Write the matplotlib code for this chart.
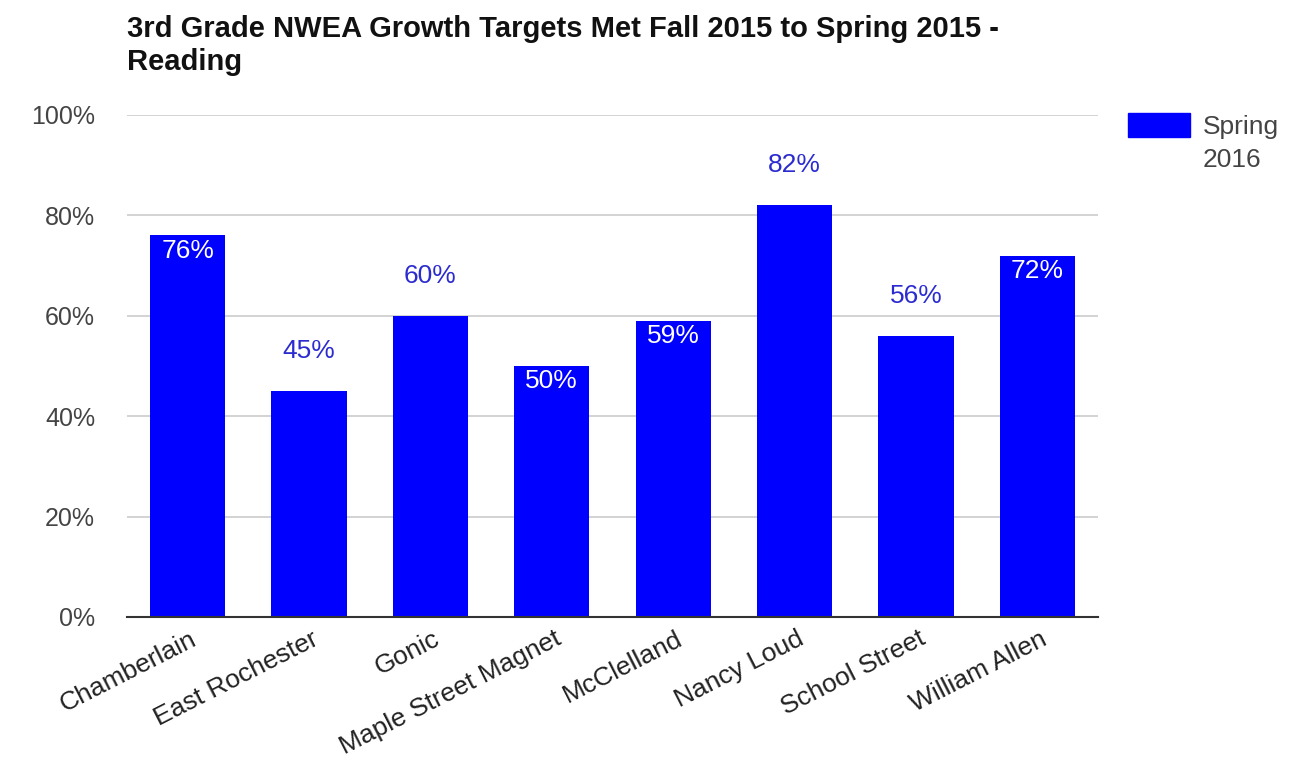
import matplotlib
matplotlib.use("Agg")
import matplotlib.pyplot as plt
from matplotlib.patches import Rectangle
from matplotlib.transforms import ScaledTranslation

schools = ["Chamberlain", "East Rochester", "Gonic", "Maple Street Magnet",
           "McClelland", "Nancy Loud", "School Street", "William Allen"]
values = [76, 45, 60, 50, 59, 82, 56, 72]
label_inside = [True, False, False, True, True, False, False, True]
yticks = [0, 20, 40, 60, 80, 100]
series_name = ["Spring", "2016"]
title = "3rd Grade NWEA Growth Targets Met Fall 2015 to Spring 2015 -\nReading"

plt.rcParams['font.family'] = ['Liberation Sans', 'DejaVu Sans']

BLUE = "#0000ff"
W, H = 1301, 769
fig = plt.figure(figsize=(W / 100, H / 100), dpi=100)
ax = fig.add_axes([127 / W, 1 - 617 / H, (1098 - 127) / W, (617 - 115) / H])

x = list(range(len(schools)))
ax.bar(x, values, width=0.62, color=BLUE, zorder=3)
ax.set_xlim(-0.5, len(schools) - 0.5)
ax.set_ylim(0, 100)

ax.set_yticks(yticks)
ax.set_yticklabels([f"{v}%" for v in yticks], fontsize=18, color="#444444")
ax.yaxis.grid(True, color="#cccccc", linewidth=1.2, zorder=0)
ax.tick_params(axis='y', length=0, pad=23)
ax.tick_params(axis='x', length=0, pad=7)

ax.set_xticks(x)
ax.set_xticklabels(schools, rotation=27, ha='right', va='top',
                   rotation_mode='anchor', fontsize=19, color="#222222")
shift = ScaledTranslation(2 / 100, 0, fig.dpi_scale_trans)
for lbl in ax.get_xticklabels():
    lbl.set_transform(lbl.get_transform() + shift)

for side in ['top', 'right', 'left']:
    ax.spines[side].set_visible(False)
ax.spines['bottom'].set_color("#333333")
ax.spines['bottom'].set_linewidth(1.5)
ax.spines['bottom'].set_zorder(4)

for xi, v, inside in zip(x, values, label_inside):
    if inside:
        ax.text(xi, v - 3.0, f"{v}%", ha='center', va='center', fontsize=19,
                color="white", zorder=5)
    else:
        ax.text(xi, v + 8, f"{v}%", ha='center', va='center', fontsize=19,
                color="#2b2bd0", zorder=5)

fig.text(127 / W, 1 - 15 / H, title, ha='left', va='top', fontsize=21,
         fontweight='bold', color="#111111", linespacing=1.25)

# legend
fig.add_artist(Rectangle((1128 / W, 1 - 137 / H), 62 / W, 24 / H,
                         transform=fig.transFigure, color=BLUE))
fig.text(1203 / W, 1 - 127 / H, series_name[0], ha='left', va='center',
         fontsize=19, color="#444444")
fig.text(1203 / W, 1 - 160 / H, series_name[1], ha='left', va='center',
         fontsize=19, color="#444444")

fig.savefig("out.png", dpi=100)
